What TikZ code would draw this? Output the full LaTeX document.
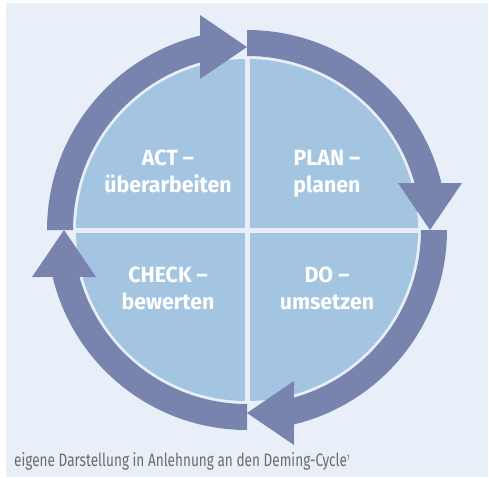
\documentclass[tikz,border=0pt]{standalone}
\usepackage{fontspec}
\setmainfont{Fira Sans}
\newfontfamily\labelfont[FakeStretch=0.97]{Fira Sans}
\newfontfamily\narrowfont[FakeStretch=0.755]{Fira Sans}
\usepackage{tikz}
\definecolor{bgblue}{HTML}{E8EFF9}
\definecolor{pieblue}{HTML}{A3C5E1}
\definecolor{arrowblue}{HTML}{7884AE}
\definecolor{capgray}{HTML}{6B6B6B}

\begin{document}
\begin{tikzpicture}[x=1pt,y=1pt,line join=miter,
  phase/.style={anchor=base,align=center,text=white,font=\labelfont\bfseries\fontsize{22}{27}\selectfont},
  capt/.style={anchor=base west,inner sep=0pt,text=capgray,font=\narrowfont\fontsize{18}{18}\selectfont}]
\useasboundingbox (-247,-247) rectangle (242,230);
\fill [bgblue] (-241,-247) rectangle (241,227);
\fill [pieblue] (0,0) circle (171);
\draw [bgblue,line width=5pt] (0,-176) -- (0,176);
\draw [bgblue,line width=5pt] (-176,0) -- (176,0);
\foreach \a in {0,-90,-180,-270}{
\begin{scope}[rotate=\a]
\fill [arrowblue] (90:200) arc[start angle=90,end angle=13.59,radius=200] -- (215,47) -- (183,0) -- (151,47) -- (15.67:174) arc[start angle=15.67,end angle=90,radius=174] -- cycle;
\end{scope}
}
\node [phase] (act) at (-79,38) {ACT –\\überarbeiten};
\node [phase] (plan) at (80,38) {PLAN –\\planen};
\node [phase] (check) at (-79,-79.5) {CHECK –\\bewerten};
\node [phase] (do) at (80,-79.5) {DO –\\umsetzen};
\node [capt] (source) at (-233,-236) {eigene Darstellung in Anlehnung an den Deming-Cycle\raisebox{6pt}{\fontsize{8}{8}\selectfont 1}};
\end{tikzpicture}
\end{document}
